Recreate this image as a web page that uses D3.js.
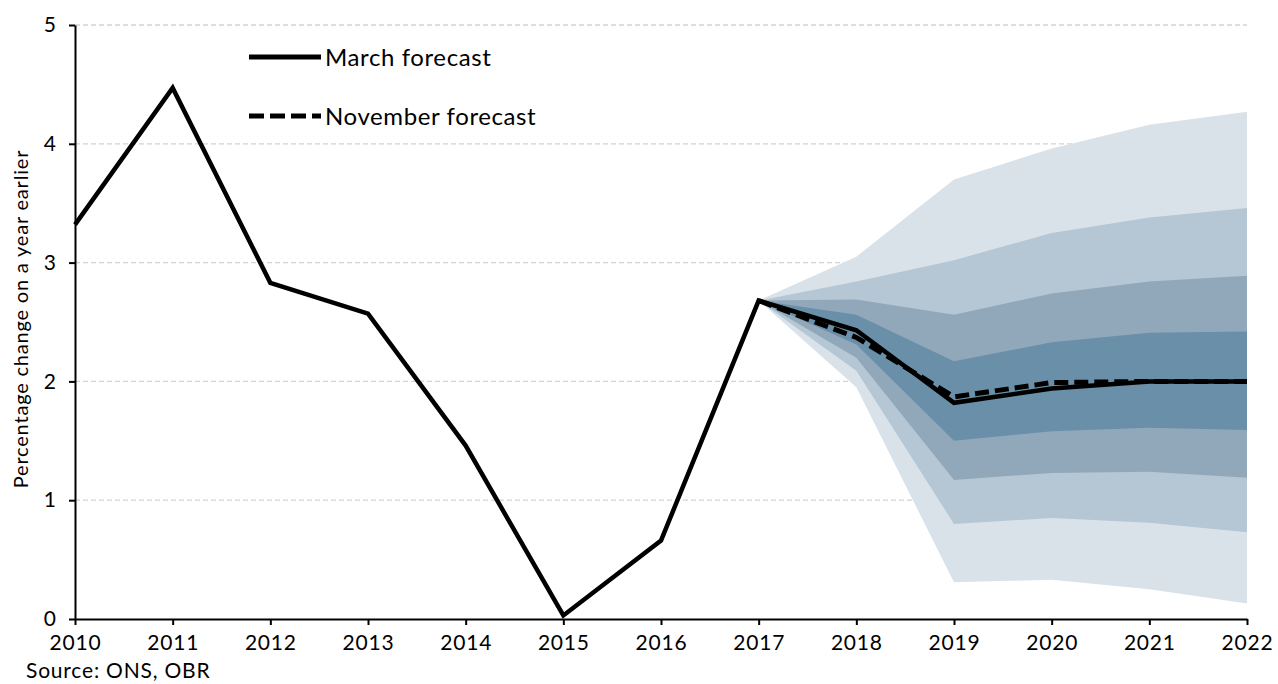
<!DOCTYPE html>
<html>
<head>
<meta charset="utf-8">
<script src="https://cdn.jsdelivr.net/npm/d3@7"></script>
<style>
  body { margin: 0; background: #fff; }
  svg text { font-family: "Century Gothic", "Lato", "DejaVu Sans", sans-serif; fill: #000; }
</style>
</head>
<body>
<svg id="chart" width="1278" height="684"></svg>
<script>
// outturn and March forecast
var years = [2010, 2011, 2012, 2013, 2014, 2015, 2016, 2017, 2018, 2019, 2020, 2021, 2022];
var march = [3.32, 4.47, 2.83, 2.57, 1.46, 0.03, 0.66, 2.68, 2.43, 1.82, 1.94, 2.0, 2.0];

// November forecast
var novYears = [2017, 2018, 2019, 2020, 2021, 2022];
var november = [2.68, 2.37, 1.87, 1.99, 2.0, 2.0];

// fan bands, outer to inner (upper / lower edges)
var fanYears = [2017, 2018, 2019, 2020, 2021, 2022];
var band1Upper = [2.68, 3.05, 3.70, 3.96, 4.16, 4.27];
var band1Lower = [2.68, 1.95, 0.31, 0.33, 0.25, 0.13];
var band2Upper = [2.68, 2.84, 3.02, 3.25, 3.38, 3.46];
var band2Lower = [2.68, 2.09, 0.80, 0.85, 0.81, 0.73];
var band3Upper = [2.68, 2.69, 2.56, 2.74, 2.84, 2.89];
var band3Lower = [2.68, 2.20, 1.17, 1.23, 1.24, 1.19];
var band4Upper = [2.68, 2.56, 2.17, 2.33, 2.41, 2.42];
var band4Lower = [2.68, 2.31, 1.50, 1.58, 1.61, 1.59];

var yTicks = [0, 1, 2, 3, 4, 5];
var legendLabels = ["March forecast", "November forecast"];

var svg = d3.select("#chart");

var x = d3.scaleLinear().domain([2010, 2022]).range([75, 1247]);
var y = d3.scaleLinear().domain([0, 5]).range([619, 25]);

//gridlines
svg.append("g")
  .selectAll("line")
  .data(yTicks.filter(function (d) { return d > 0; }))
  .enter().append("line")
  .attr("x1", x(2010)).attr("x2", x(2022))
  .attr("y1", function (d) { return y(d); })
  .attr("y2", function (d) { return y(d); })
  .attr("stroke", "#d4d4d4")
  .attr("stroke-width", 1.3)
  .attr("stroke-dasharray", "5,3");

//fan chart
var bands = [
  { up: band1Upper, lo: band1Lower, col: "#dae2e9" },
  { up: band2Upper, lo: band2Lower, col: "#b5c7d4" },
  { up: band3Upper, lo: band3Lower, col: "#91a8bb" },
  { up: band4Upper, lo: band4Lower, col: "#6a8fa8" }
];
var area = d3.area()
  .x(function (d) { return x(d.year); })
  .y0(function (d) { return y(d.lo); })
  .y1(function (d) { return y(d.up); });

bands.forEach(function (b) {
  var pts = fanYears.map(function (yr, i) { return { year: yr, up: b.up[i], lo: b.lo[i] }; });
  svg.append("path")
    .datum(pts)
    .attr("d", area)
    .attr("fill", b.col);
});

//lines
var line = d3.line()
  .x(function (d) { return x(d[0]); })
  .y(function (d) { return y(d[1]); });

svg.append("path")
  .datum(novYears.map(function (yr, i) { return [yr, november[i]]; }))
  .attr("d", line)
  .attr("fill", "none")
  .attr("stroke", "#000")
  .attr("stroke-width", 5)
  .attr("stroke-dasharray", "14,6");

svg.append("path")
  .datum(years.map(function (yr, i) { return [yr, march[i]]; }))
  .attr("d", line)
  .attr("fill", "none")
  .attr("stroke", "#000")
  .attr("stroke-width", 4.5)
  .attr("stroke-linejoin", "miter");

//axes
var xAxis = svg.append("g")
  .attr("transform", "translate(0," + y(0) + ")")
  .call(d3.axisBottom(x).tickValues(years).tickFormat(d3.format("d")).tickSize(6).tickSizeOuter(0));
xAxis.select(".domain").attr("stroke", "#000").attr("stroke-width", 2);
xAxis.selectAll(".tick line").attr("stroke", "#000").attr("stroke-width", 2);
xAxis.selectAll(".tick text").attr("y", 12).attr("dy", "0.9em")
  .style("font-size", "21px").style("letter-spacing", "0.8px");

var yAxis = svg.append("g")
  .attr("transform", "translate(" + x(2010) + ",0)")
  .call(d3.axisLeft(y).tickValues(yTicks).tickFormat(d3.format("d")).tickSize(6).tickSizeOuter(0));
yAxis.select(".domain").attr("stroke", "#000").attr("stroke-width", 2);
yAxis.selectAll(".tick line").attr("stroke", "#000").attr("stroke-width", 2);
yAxis.selectAll(".tick text").attr("x", -19).style("font-size", "21px");

//axis label
svg.append("text")
  .attr("transform", "translate(28,319) rotate(-90)")
  .attr("text-anchor", "middle")
  .style("font-size", "20px")
  .style("letter-spacing", "0.8px")
  .text("Percentage change on a year earlier");

//legend
var legend = svg.append("g");
legendLabels.forEach(function (lab, i) {
  var ly = 57 + i * 59;
  legend.append("line")
    .attr("x1", 249).attr("x2", 321)
    .attr("y1", ly).attr("y2", ly)
    .attr("stroke", "#000")
    .attr("stroke-width", 5)
    .attr("stroke-dasharray", i === 1 ? "15,6" : null);
  legend.append("text")
    .attr("x", 325).attr("y", ly + 9)
    .style("font-size", "24px")
    .style("letter-spacing", "0.6px")
    .text(lab);
});

//source
svg.append("text")
  .attr("x", 26).attr("y", 678)
  .style("font-size", "21px")
  .style("letter-spacing", "0.8px")
  .text("Source: ONS, OBR");
</script>
</body>
</html>
